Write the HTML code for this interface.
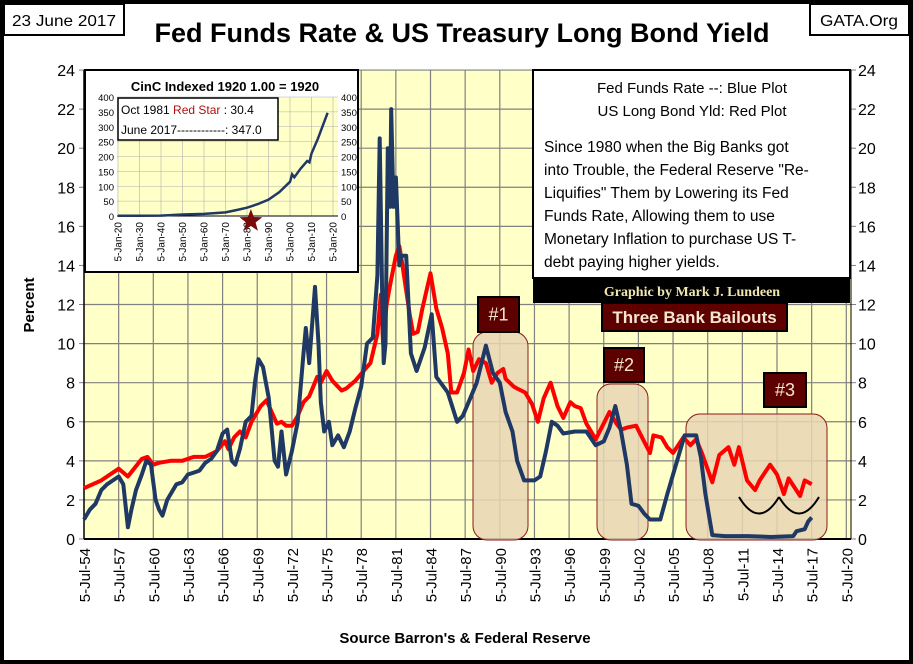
<!DOCTYPE html>
<html><head><meta charset="utf-8"><style>
html,body{margin:0;padding:0;background:#fff}
svg{display:block;font-family:"Liberation Sans",sans-serif}
</style></head><body>
<svg id="c" width="913" height="664" viewBox="0 0 913 664" xmlns="http://www.w3.org/2000/svg">
<rect x="2" y="2" width="909" height="660" fill="#fff" stroke="#000" stroke-width="4"/>
<rect x="84" y="70" width="767" height="469" fill="#FFFFC8"/>
<g id="grid"></g>
<g id="axes"></g>
<g id="boxes"></g>
<g id="series"></g>
<g id="overlay"></g>
<text x="462" y="42" text-anchor="middle" font-size="27" font-weight="bold" textLength="615" lengthAdjust="spacingAndGlyphs">Fed Funds Rate &amp; US Treasury Long Bond Yield</text>
<rect x="4" y="4" width="120" height="31" fill="#fff" stroke="#000" stroke-width="2"/>
<text x="64" y="26" text-anchor="middle" font-size="16" textLength="104" lengthAdjust="spacingAndGlyphs">23 June 2017</text>
<rect x="810" y="4" width="99" height="31" fill="#fff" stroke="#000" stroke-width="2"/>
<text x="859" y="26" text-anchor="middle" font-size="16" textLength="78" lengthAdjust="spacingAndGlyphs">GATA.Org</text>
<text transform="translate(34,305) rotate(-90)" text-anchor="middle" font-size="15" font-weight="bold">Percent</text>
<text x="465" y="643" text-anchor="middle" font-size="15" font-weight="bold">Source Barron's &amp; Federal Reserve</text>
</svg>
<script>
// Fed funds rate (blue)
var ffYears=[1954.5,1955,1955.5,1956,1956.5,1957,1957.5,1957.9,1958.3,1958.6,1959,1959.5,1959.9,1960.3,1960.7,1961,1961.3,1961.7,1962,1962.5,1963,1963.5,1964,1964.5,1965,1965.5,1966,1966.5,1966.9,1967.3,1967.6,1968,1968.5,1969,1969.3,1969.6,1970,1970.5,1971,1971.3,1971.6,1972,1972.5,1973,1973.5,1973.7,1974,1974.5,1974.8,1975,1975.3,1975.7,1976,1976.5,1977,1977.5,1978,1978.5,1979,1979.5,1979.9,1980.1,1980.3,1980.45,1980.6,1980.8,1981.0,1981.1,1981.3,1981.5,1981.8,1982,1982.4,1982.8,1983.3,1984,1984.6,1985,1986,1986.8,1987.3,1987.8,1988.5,1989.3,1989.9,1990.5,1991,1991.6,1992,1992.6,1993.5,1994,1994.5,1995,1995.5,1996,1997,1998,1998.8,1999.5,2000,2000.5,2001,2001.5,2001.9,2002.5,2003,2003.5,2004.4,2005,2006,2006.5,2007.5,2007.9,2008.3,2008.9,2010,2012,2014,2015.9,2016.2,2016.9,2017.2,2017.5];
var ffValues=[1.0,1.5,1.8,2.5,2.8,3.0,3.2,2.8,0.6,1.5,2.5,3.3,4.0,3.8,2.0,1.5,1.2,2.0,2.3,2.8,2.9,3.3,3.4,3.5,3.9,4.1,4.5,5.4,5.6,4.0,3.8,4.6,6.0,6.3,8.0,9.2,8.8,7.2,4.0,3.7,5.5,3.3,4.5,6.0,9.5,10.8,9.0,12.9,10.0,7.0,5.5,6.0,4.8,5.3,4.7,5.5,6.7,7.8,10.0,10.3,13.5,20.5,13.0,9.0,10.0,20.0,17.0,22.0,17.0,18.5,14.0,14.5,14.5,9.5,8.6,9.8,11.5,8.3,7.5,6.0,6.3,7.0,8.0,9.9,8.5,8.0,6.5,5.5,4.0,3.0,3.0,3.2,4.5,6.0,5.8,5.4,5.5,5.5,4.8,5.0,5.7,6.8,5.5,3.8,1.8,1.7,1.3,1.0,1.0,2.3,4.3,5.3,5.3,4.2,2.3,0.2,0.15,0.15,0.1,0.15,0.4,0.5,0.9,1.1];
// Long bond yield (red)
var lbYears=[1954.5,1956,1957.5,1958.3,1959.5,1960,1960.5,1961,1962,1963,1964,1965,1966,1966.7,1967,1967.5,1968,1968.5,1969,1969.8,1970.3,1970.9,1971.2,1971.6,1972,1972.5,1973,1973.5,1974,1974.7,1975,1975.5,1976,1976.8,1977.2,1978,1978.7,1979.3,1979.9,1980.2,1980.4,1980.7,1981,1981.5,1981.8,1982,1982.7,1983,1983.4,1983.8,1984.5,1985,1985.5,1986,1986.3,1986.8,1987.4,1987.8,1988.2,1988.7,1989.3,1989.8,1990.3,1990.8,1991,1991.7,1992,1992.7,1993.3,1993.8,1994.3,1994.9,1995.5,1996,1996.6,1997,1997.5,1998,1998.8,1999.4,2000,2000.6,2001,2001.5,2002.3,2002.9,2003.5,2003.8,2004.5,2005,2005.5,2006.4,2007,2007.5,2008,2008.9,2009.5,2010.3,2010.8,2011.2,2011.9,2012.6,2013,2013.9,2014.5,2015.1,2015.5,2016.5,2016.9,2017.5];
var lbValues=[2.6,3.0,3.6,3.2,4.1,4.2,3.8,3.9,4.0,4.0,4.2,4.2,4.5,5.0,4.6,5.2,5.5,5.2,6.0,6.8,7.1,6.3,5.9,6.0,5.8,5.8,6.3,7.0,7.3,8.3,8.0,8.6,8.1,7.6,7.7,8.1,8.6,9.0,10.5,12.5,10.0,12.0,13.0,14.5,15.0,14.3,11.5,10.5,10.6,11.8,13.6,11.8,10.8,9.5,7.5,7.5,8.5,9.7,8.6,9.2,9.0,8.0,8.5,8.7,8.2,7.8,7.7,7.5,6.9,6.0,7.2,8.0,6.8,6.2,7.0,6.8,6.7,5.9,5.1,5.8,6.5,5.9,5.6,5.7,5.8,5.1,4.4,5.3,5.2,4.7,4.4,5.2,4.8,5.1,4.4,2.9,4.3,4.7,3.8,4.7,3.0,2.5,3.0,3.8,3.3,2.3,3.1,2.2,3.0,2.8];
var yTicks=[0,2,4,6,8,10,12,14,16,18,20,22,24];
var xTickYears=[54,57,60,63,66,69,72,75,78,81,84,87,90,93,96,99,2,5,8,11,14,17,20];
// Inset: CinC index
var ciYears=[1920,1930,1940,1950,1960,1970,1975,1980,1985,1990,1995,2000,2001,2002,2005,2008,2009,2010,2013,2017.5];
var ciValues=[1,1,1.5,5,7,12,20,28,40,55,80,115,140,130,160,185,180,210,260,347];
var ciYTicks=[0,50,100,150,200,250,300,350,400];
var ciXTicks=[20,30,40,50,60,70,80,90,0,10,20];

var NS="http://www.w3.org/2000/svg";
function X(yr){return 84+(yr-1954.5)*11.55;}
function Y(v){return 539-v*19.54;}
function mk(tag,attrs,parent,txt){var e=document.createElementNS(NS,tag);for(var k in attrs)e.setAttribute(k,attrs[k]);if(txt!==undefined)e.textContent=txt;parent.appendChild(e);return e;}
var grid=document.getElementById('grid'),axes=document.getElementById('axes'),boxes=document.getElementById('boxes'),series=document.getElementById('series'),ov=document.getElementById('overlay');

yTicks.forEach(function(t){
  var y=Y(t);
  if(t>0){var g=mk('line',{x1:84,x2:851,y1:y,y2:y,stroke:'#808080','stroke-width':1.2},grid);
  
  }
  var l=mk('text',{x:75,y:y+6,'text-anchor':'end','font-size':16},axes,String(t));
  
  
  var r=mk('text',{x:858,y:y+6,'font-size':16},axes,String(t));
  
  
  mk('line',{x1:79,x2:84,y1:y,y2:y,stroke:'#808080'},axes);
  mk('line',{x1:851,x2:856,y1:y,y2:y,stroke:'#808080'},axes);
});
xTickYears.forEach(function(t,i){
  var yr=(t<50?2000+t:1900+t)+0.5;var x=X(yr);
  if(i>0){var g=mk('line',{x1:x,x2:x,y1:70,y2:539,stroke:'#808080','stroke-width':1.2},grid);
  
  }
  var s=(t<10?'0':'')+t;
  var l=mk('text',{transform:'translate('+(x+6)+',548) rotate(-90)','text-anchor':'end','font-size':15},axes,'5-Jul-'+s);
  
  
});
mk('line',{x1:84,x2:851,y1:539,y2:539,stroke:'#000','stroke-width':2},axes);
mk('line',{x1:84,x2:84,y1:70,y2:539,stroke:'#000','stroke-width':1.5},axes);
mk('line',{x1:851,x2:851,y1:70,y2:539,stroke:'#000','stroke-width':1},axes);

[[473,332,55,208,'bailout-box-1'],[597,384,51,156,'bailout-box-2'],[686,414,141,126,'bailout-box-3']].forEach(function(b){
  var r=mk('rect',{x:b[0],y:b[1],width:b[2],height:b[3],rx:14,fill:'#E8D6B4','fill-opacity':0.85,stroke:'#8B1A1A','stroke-width':1},boxes);
  
  
});

function line(xs,vs,color,w,name){
  var d='';for(var i=0;i<xs.length;i++){d+=(i?'L':'M')+X(xs[i]).toFixed(1)+' '+Y(vs[i]).toFixed(1);}
  var p=mk('path',{d:d,fill:'none',stroke:color,'stroke-width':w,'stroke-linejoin':'round'},series);
  
  
}
line(lbYears,lbValues,'#FF0000',4,'long-bond-yield-line');
line(ffYears,ffValues,'#1F3864',4,'fed-funds-rate-line');

function lab(x,y,w,h,txt,name,fs){
  var g=mk('g',{},ov);
  
  
  mk('rect',{x:x,y:y,width:w,height:h,fill:'#5C0000',stroke:'#000','stroke-width':2},g);
  mk('text',{x:x+w/2,y:y+h/2+6,'text-anchor':'middle','font-size':fs,fill:'#F5E6D0','font-weight':fs>17?'normal':'bold'},g,txt);
}
lab(478,297,41,35,'#1','bailout-label-1',18);
lab(604,348,40,34,'#2','bailout-label-2',18);
lab(764,373,42,34,'#3','bailout-label-3',18);
lab(602,303,185,28,'Three Bank Bailouts','bailout-title',17);
[[739,779],[779,819]].forEach(function(a){
  var p=mk('path',{d:'M'+a[0]+' 497 Q'+((a[0]+a[1])/2)+' 530 '+a[1]+' 497',fill:'none',stroke:'#000','stroke-width':2},ov);
  
  
});

var tb=mk('g',{},ov);


mk('rect',{x:533,y:70,width:317,height:208,fill:'#fff',stroke:'#000','stroke-width':2},tb);
mk('text',{x:692,y:93,'text-anchor':'middle','font-size':15},tb,'Fed Funds Rate --:  Blue Plot');
mk('text',{x:692,y:116,'text-anchor':'middle','font-size':15},tb,'US Long Bond Yld:  Red Plot');
['Since 1980 when the Big Banks got','into Trouble, the Federal Reserve "Re-','Liquifies" Them by Lowering its Fed','Funds Rate, Allowing them to use','Monetary Inflation to purchase US T-','debt paying higher  yields.'].forEach(function(s,i){
  mk('text',{x:544,y:152+i*23,'font-size':15.5},tb,s);
});
var by=mk('g',{},ov);


mk('rect',{x:533,y:278,width:317,height:25,fill:'#000'},by);
mk('text',{x:692,y:296,'text-anchor':'middle','font-size':14,'font-weight':'bold','font-family':'Liberation Serif, serif',fill:'#F0E6B0'},by,'Graphic by Mark J. Lundeen');

var ins=mk('g',{},ov);


mk('rect',{x:85,y:70,width:273,height:202,fill:'#fff',stroke:'#000','stroke-width':2},ins);
mk('text',{x:225,y:91,'text-anchor':'middle','font-size':13,'font-weight':'bold'},ins,'CinC Indexed 1920    1.00 = 1920');
mk('rect',{x:117,y:97,width:221,height:119,fill:'#FFFFC8'},ins);
function IX(y){return 118+(y-1920)*2.15;}
function IY(v){return 216-v*119/400;}
ciYTicks.forEach(function(t){
  var y=IY(t);
  mk('line',{x1:117,x2:338,y1:y,y2:y,stroke:'#B0B0B0','stroke-width':0.6},ins);
  mk('text',{x:114,y:y+4,'text-anchor':'end','font-size':9.5},ins,String(t));
  mk('text',{x:341,y:y+4,'font-size':9.5},ins,String(t));
});
ciXTicks.forEach(function(t,i){
  var x=IX(1920+i*10);
  mk('line',{x1:x,x2:x,y1:97,y2:216,stroke:'#B0B0B0','stroke-width':0.6},ins);
  var s=(t<10?'0':'')+t;
  var l=mk('text',{transform:'translate('+(x+3.5)+',222) rotate(-90)','text-anchor':'end','font-size':10},ins,'5-Jan-'+s);
  
  
});
mk('line',{x1:117,x2:338,y1:216,y2:216,stroke:'#000'},ins);
var cd='';for(var i=0;i<ciYears.length;i++){cd+=(i?'L':'M')+IX(ciYears[i]).toFixed(1)+' '+IY(ciValues[i]).toFixed(1);}
var cp=mk('path',{d:cd,fill:'none',stroke:'#1F3864','stroke-width':2.5},ins);


var sx=IX(1981.8),sy=IY(0)+5,pts='';
for(var k=0;k<10;k++){var r=k%2?5:12,a=-Math.PI/2+k*Math.PI/5;pts+=(sx+r*Math.cos(a)).toFixed(1)+','+(sy+r*Math.sin(a)).toFixed(1)+' ';}
var st=mk('polygon',{points:pts,fill:'#7A0A0A'},ins);


var ib=mk('g',{},ins);


mk('rect',{x:118,y:98,width:160,height:42,fill:'#fff',stroke:'#000','stroke-width':1.5},ib);
var t1=mk('text',{x:121,y:114,'font-size':12},ib);
mk('tspan',{},t1,'Oct 1981 ');mk('tspan',{fill:'#B01010'},t1,'Red Star');mk('tspan',{},t1,' :    30.4');
mk('text',{x:121,y:134,'font-size':12},ib,'June 2017------------: 347.0');
</script>
</body></html>
